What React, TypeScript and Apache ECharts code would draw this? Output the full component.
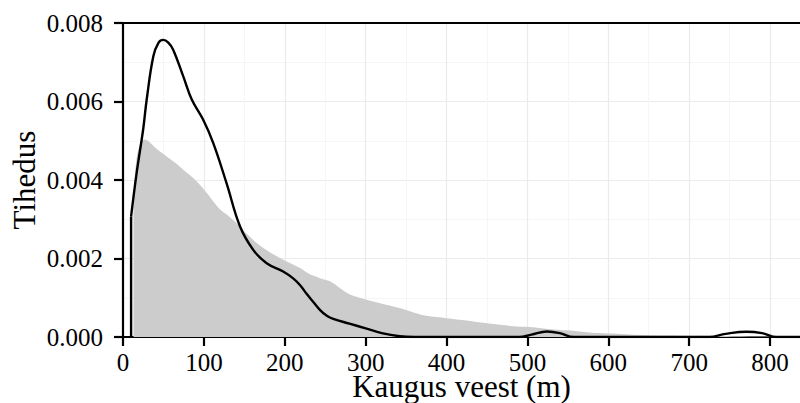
import React, { useEffect, useRef } from "react";
import * as echarts from "echarts";

const xTickValues = [0, 100, 200, 300, 400, 500, 600, 700, 800];
const yTickValues = [0, 0.002, 0.004, 0.006, 0.008];

// grey filled density (all locations)
const greyDensity: [number, number][] = [
  [13, 0.0036], [15, 0.0042], [18, 0.0047], [22, 0.00495], [27, 0.00503],
  [32, 0.00498], [40, 0.00482], [54, 0.0046], [65, 0.00443], [74.5, 0.00426],
  [85, 0.00408], [95, 0.00388], [104, 0.00366], [111.6, 0.00345], [119.5, 0.00326],
  [130, 0.00309], [140.5, 0.0029], [152, 0.00265], [165, 0.0024], [180, 0.00218],
  [198, 0.00197], [218.8, 0.00176], [230, 0.00161], [243.5, 0.0015], [256, 0.00142],
  [266, 0.00128], [280.6, 0.00108], [301, 0.00095], [320, 0.00085], [342, 0.00074],
  [360, 0.00062], [375, 0.00054], [400, 0.00048], [425, 0.00042], [445, 0.00036],
  [466, 0.00031], [487, 0.00027], [507, 0.00025], [528, 0.0002], [548, 0.00017],
  [570, 0.00013], [589.6, 0.0001], [610, 0.00008], [630.8, 0.00006], [670, 0.00004],
  [713, 0.00003], [755, 0.00002], [795, 0.00001], [837, 0.0],
];

// black line density
const lineVertical: [number, number][] = [[10, 0], [10, 0.00307]];
const lineDensity: [number, number][] = [
  [10, 0.00307], [17, 0.0042], [25, 0.0053], [29.3, 0.00605], [37.5, 0.00715],
  [44, 0.0075], [49.8, 0.00757], [56, 0.0075], [62, 0.00732], [74.5, 0.00664],
  [85, 0.00605], [99, 0.00554], [111.6, 0.00494], [128, 0.00392], [144.6, 0.00282],
  [161, 0.00222], [177.6, 0.00188], [198, 0.00167], [210, 0.0015], [219, 0.00132],
  [227, 0.0011], [235, 0.0009], [244, 0.00068], [252, 0.00054], [260, 0.00046],
  [280, 0.00034], [300, 0.00022], [320, 0.0001], [342, 0.00002], [360, 0],
  [490, 0], [505, 0.00006], [524, 0.00014], [540, 0.0001], [557, 0],
  [725, 0], [745, 0.00008], [771, 0.000135], [790, 0.0001], [808, 0], [837, 0],
];

const X_MAX = 837;
const FONT = "'Liberation Serif', 'Times New Roman', serif";

export default function App() {
  const ref = useRef<HTMLDivElement>(null);
  useEffect(() => {
    document.body.style.margin = "0";
    if (!ref.current) return;
    const chart = echarts.init(ref.current, null, { renderer: "svg" });
    chart.setOption({
      animation: false,
      grid: {
        left: 123, right: 0, top: 23, bottom: 66,
        containLabel: false, outerBoundsMode: "none",
      },
      xAxis: [
        {
          type: "value",
          min: 0,
          max: X_MAX,
          interval: 100,
          name: "Kaugus veest (m)",
          nameLocation: "middle",
          nameGap: 34,
          nameMoveOverlap: false,
          nameTextStyle: { fontFamily: FONT, fontSize: 31, color: "#000" },
          axisLine: { show: true, onZero: false, lineStyle: { color: "#000", width: 2.2 } },
          axisTick: {
            show: true,
            length: 9,
            customValues: xTickValues,
            lineStyle: { color: "#000", width: 2.2 },
          },
          axisLabel: {
            customValues: xTickValues,
            fontFamily: FONT,
            fontSize: 25,
            color: "#000",
            margin: 13,
          },
          splitLine: { show: true, lineStyle: { color: "#ebebeb", width: 1.2 } },
          minorTick: { show: false, splitNumber: 2 },
          minorSplitLine: { show: true, lineStyle: { color: "#f6f6f6", width: 1 } },
        },
        {
          type: "value",
          position: "top",
          min: 0,
          max: X_MAX,
          interval: 100,
          axisLine: { show: true, onZero: false, lineStyle: { color: "#000", width: 2.2 } },
          axisTick: { show: false },
          axisLabel: { show: false },
          splitLine: { show: false },
        },
      ],
      yAxis: {
        type: "value",
        min: 0,
        max: 0.008,
        interval: 0.002,
        name: "Tihedus",
        nameLocation: "middle",
        nameGap: 83,
        nameMoveOverlap: false,
        nameTextStyle: { fontFamily: FONT, fontSize: 31, color: "#000" },
        axisLine: { show: true, onZero: false, lineStyle: { color: "#000", width: 2.2 } },
        axisTick: { show: true, length: 9, lineStyle: { color: "#000", width: 2.2 } },
        axisLabel: {
          customValues: yTickValues,
          fontFamily: FONT,
          fontSize: 25,
          color: "#000",
          margin: 20,
          formatter: (v: number) => v.toFixed(3),
        },
        splitLine: { show: true, lineStyle: { color: "#ebebeb", width: 1.2 } },
        minorTick: { show: false, splitNumber: 2 },
        minorSplitLine: { show: true, lineStyle: { color: "#f6f6f6", width: 1 } },
      },
      series: [
        {
          type: "line",
          data: greyDensity,
          smooth: 0.3,
          showSymbol: false,
          lineStyle: { width: 0 },
          areaStyle: { color: "#cccccc", opacity: 1 },
          z: 1,
        },
        {
          type: "line",
          data: lineVertical,
          showSymbol: false,
          lineStyle: { color: "#000", width: 2.4 },
          z: 3,
        },
        {
          type: "line",
          data: lineDensity,
          smooth: 0.4,
          showSymbol: false,
          lineStyle: { color: "#000", width: 2.4 },
          z: 3,
        },
      ],
    });
    return () => chart.dispose();
  }, []);
  return <div ref={ref} style={{ width: 800, height: 403 }} />;
}
